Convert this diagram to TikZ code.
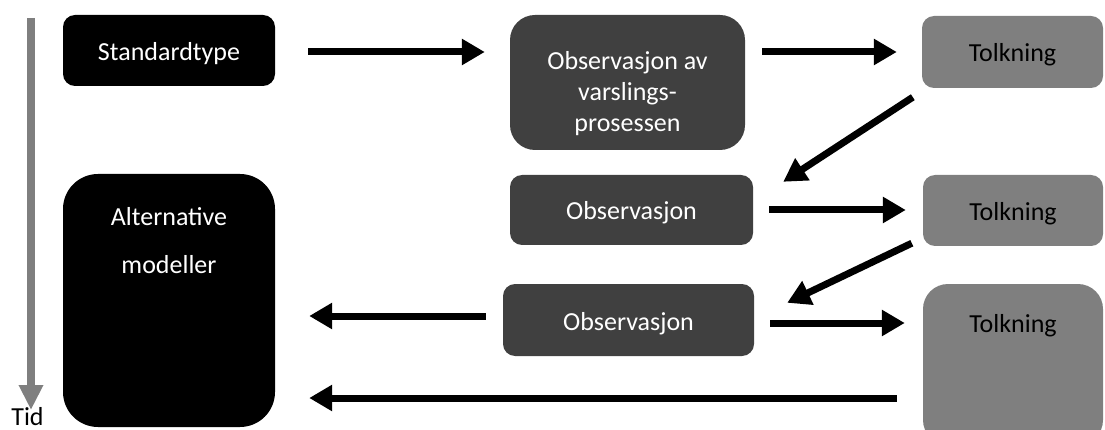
\documentclass[tikz,border=0pt]{standalone}
\usepackage{fontspec}
\setmainfont{Carlito}
\usetikzlibrary{arrows.meta}
\definecolor{darkbox}{HTML}{404040}
\definecolor{lightbox}{HTML}{7F7F7F}
\begin{document}
\begin{tikzpicture}[x=1pt,y=-1pt,
  box/.style={rectangle,inner sep=0pt,font=\fontsize{26}{31}\selectfont,align=center,text height=21pt,text depth=1pt},
  blackbox/.style={box,fill=black,text=white},
  obsbox/.style={box,fill=darkbox,text=white},
  tolkbox/.style={box,fill=lightbox,text=black},
  arr/.style={line width=7pt,-{Triangle[length=23pt,width=25pt]}},
  timearr/.style={line width=8pt,lightbox,-{Triangle[length=25pt,width=23pt]}}
]
\useasboundingbox (0,0) rectangle (1105,430);
\clip (0,0) rectangle (1105,430);

% boxes
\node[blackbox,rounded corners=12pt,minimum width=212pt,minimum height=71pt] (std) at (169,50.5) {Standardtype};
\node[blackbox,rounded corners=35pt,minimum width=212pt,minimum height=253pt,
  label={[name=altlab,anchor=north,inner sep=0pt,yshift=-33pt,text=white,align=center,font=\fontsize{26}{48}\selectfont]north:Alternative\\modeller}] (alt) at (169,300.5) {};
\node[obsbox,rounded corners=25pt,minimum width=235pt,minimum height=135pt] (obs1) at (627.5,82.5) {};
\node[text=white,align=center,inner sep=0pt,font=\fontsize{26}{31}\selectfont] (obs1t) at (627.5,94) {Observasjon av\\varslings-\\prosessen};
\node[obsbox,rounded corners=12pt,minimum width=243pt,minimum height=70pt] (obs2) at (631.5,210) {Observasjon};
\node[obsbox,rounded corners=12pt,minimum width=251pt,minimum height=72pt] (obs3) at (628.5,320) {Observasjon};
\node[tolkbox,rounded corners=12pt,minimum width=181pt,minimum height=72pt] (tk1) at (1012.5,52) {Tolkning};
\node[tolkbox,rounded corners=12pt,minimum width=180pt,minimum height=71pt] (tk2) at (1013,210.5) {Tolkning};
\node[tolkbox,rounded corners=25pt,minimum width=180pt,minimum height=161pt,
  label={[name=tk3lab,anchor=base,inner sep=0pt,yshift=-49pt,text=black,font=\fontsize{26}{31}\selectfont]north:Tolkning}] (tk3) at (1013,364.5) {};

% time axis
\coordinate (tTop) at (31,18);
\coordinate (tBot) at (31,410);
\draw[timearr] (tTop) -- (tBot);
\node[anchor=base,inner sep=0pt,font=\fontsize{26}{31}\selectfont] (tid) at (27.5,425) {Tid};

% connectors
\draw[arr] ([xshift=33pt,yshift=-1.5pt]std.east) -- ([xshift=-25pt,yshift=-1.5pt]std.east -| obs1.west);
\draw[arr] ([xshift=17pt]obs1.east |- tk1.west) -- ([xshift=-25pt]tk1.west);
\draw[arr] ([xshift=-9pt,yshift=-9pt]tk1.south west) -- ([xshift=30pt,yshift=-7pt]obs2.north east);
\draw[arr] ([xshift=16pt]obs2.east) -- ([xshift=-17pt]obs2.east -| tk2.west);
\draw[arr] ([xshift=-11pt,yshift=3pt]tk2.south west) -- ([xshift=33pt,yshift=-19pt]obs3.north east);
\draw[arr] ([xshift=16pt,yshift=-3pt]obs3.east) -- ([xshift=-18pt,yshift=-3pt]obs3.east -| tk3.west);
\draw[arr] ([xshift=-17pt,yshift=4pt]obs3.west) -- ([xshift=34pt,yshift=4pt]obs3.west -| alt.east);
\coordinate (backstart) at ([xshift=-26pt,yshift=-33.5pt]tk3.west);
\draw[arr] (backstart) -- ([xshift=34pt]backstart -| alt.east);
\end{tikzpicture}
\end{document}
